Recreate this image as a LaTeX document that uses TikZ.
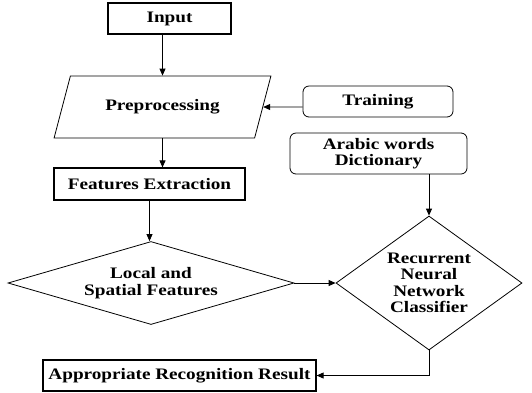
\documentclass[tikz,border=0pt]{standalone}
\usepackage{fontspec}
\setmainfont{Liberation Serif}[FakeStretch=1.2]
\usepackage{tikz}
\usetikzlibrary{
    positioning,
    shapes.geometric,
    arrows.meta,
    calc
}

\begin{document}
\begin{tikzpicture}[x=1pt,y=-1pt,
  font=\fontsize{16}{16.5}\selectfont\bfseries,
  every node/.style={align=center,inner sep=0pt},
  plainbox/.style={draw,line width=1.2pt,rectangle},
  roundbox/.style={draw,line width=0.8pt,rectangle,rounded corners=6pt},
  slantbox/.style={draw,line width=0.8pt,trapezium,trapezium left angle=55.3,
    trapezium right angle=124.7,trapezium stretches=true},
  decision/.style={draw,line width=0.8pt,diamond},
  arr/.style={line width=0.8pt,-{Triangle[length=7pt,width=6pt]}}]
\useasboundingbox (0,0) rectangle (532,392);
\node[plainbox,minimum width=123pt,minimum height=31pt] (input) at (169.5,18.5) {Input};
\node[slantbox,minimum width=217pt,minimum height=62pt] (prep) at (162.5,107) {Preprocessing};
\node[roundbox,minimum width=150pt,minimum height=31pt] (train) at (378,101.5) {Training};
\node[roundbox,minimum width=177pt,minimum height=41pt] (dict) at (378.5,153.5) {Arabic words\\Dictionary};
\node[plainbox,minimum width=191pt,minimum height=32pt] (feat) at (149.5,184) {Features Extraction};
\node[decision,aspect=3.45,minimum width=286pt,minimum height=83pt] (local) at (151,283) {Local and\\Spatial Features};
\node[decision,aspect=1.39,minimum width=186pt,minimum height=134pt] (rnn) at (429,283) {Recurrent\\Neural\\Network\\Classifier};
\node[plainbox,minimum width=273pt,minimum height=31pt] (result) at (179.5,375.5) {Appropriate Recognition Result};

\draw[arr] (input.south -| prep) -- (prep.north);
\draw[arr] (train.west |- prep) -- (prep);
\draw[arr] (prep.south) -- (prep.south |- feat.north);
\draw[arr] (feat.south) -- (feat.south |- local.north);
\draw[arr] (rnn.north |- dict.south) -- (rnn.north);
\draw[arr] (local.east) -- (rnn.west);
\draw[arr] (rnn.south) |- (result.east);
\end{tikzpicture}
\end{document}
